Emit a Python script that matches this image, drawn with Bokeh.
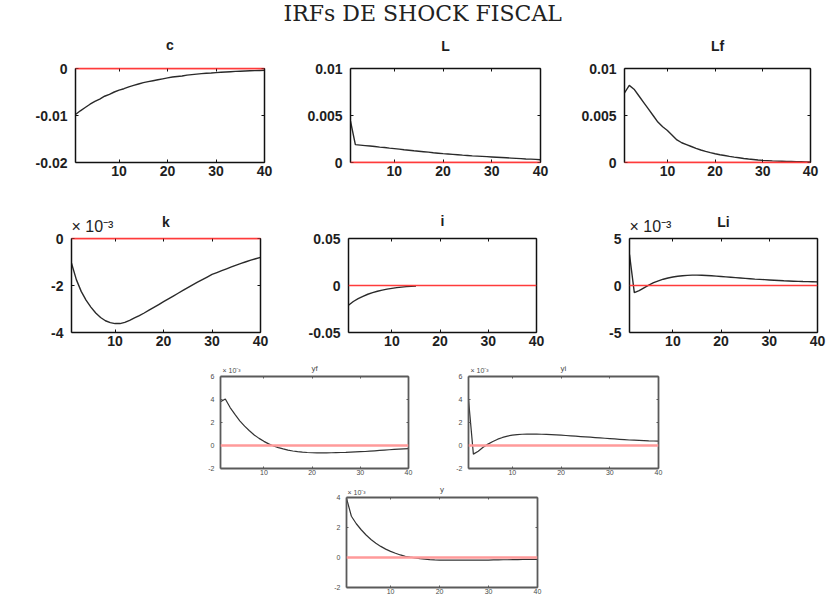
from bokeh.plotting import figure
from bokeh.layouts import column, row
from bokeh.models import Spacer, LinearAxis, Range1d, FixedTicker, Span, Title
from bokeh.embed import file_html
from bokeh.resources import INLINE

# ---------------------------------------------------------------- data
periods = list(range(1, 41))

# responses in levels
c_irf = [-0.0098, -0.0090, -0.0083, -0.0076, -0.0070, -0.0065, -0.0059, -0.0055,
         -0.0050, -0.0046, -0.0043, -0.0039, -0.0036, -0.0033, -0.0030, -0.0028,
         -0.0026, -0.0024, -0.0022, -0.0020, -0.0018, -0.0017, -0.0016, -0.0014,
         -0.0013, -0.0012, -0.0011, -0.0010, -0.00095, -0.00087, -0.00080, -0.00074,
         -0.00068, -0.00062, -0.00057, -0.00053, -0.00049, -0.00045, -0.00041, -0.00038]
L_irf = [0.0044, 0.0019, 0.00185, 0.0018, 0.00175, 0.0017, 0.00164, 0.00159,
         0.00153, 0.00148, 0.00142, 0.00136, 0.00131, 0.00125, 0.0012, 0.00115,
         0.0011, 0.00104, 0.00099, 0.00094, 0.0009, 0.00086, 0.00082, 0.00078,
         0.00075, 0.00071, 0.00068, 0.00065, 0.00062, 0.00059, 0.00056, 0.00053,
         0.0005, 0.00047, 0.00044, 0.00041, 0.00038, 0.00036, 0.00033, 0.0003]
Lf_irf = [0.0074, 0.0082, 0.0078, 0.0071, 0.0064, 0.0057, 0.0050, 0.0043,
          0.0038, 0.0034, 0.0029, 0.0024, 0.0021, 0.0019, 0.0017, 0.0015,
          0.00133, 0.00118, 0.00105, 0.00093, 0.00083, 0.00074, 0.00065, 0.00057,
          0.0005, 0.00043, 0.00037, 0.00032, 0.00027, 0.00023, 0.0002, 0.00017,
          0.00015, 0.00013, 0.00011, 0.0001, 0.00009, 0.00008, 0.00007, 0.00006]
i_irf = [-0.0210, -0.0170, -0.0140, -0.0115, -0.0093, -0.0076, -0.0061, -0.0049,
         -0.0039, -0.0030, -0.0023, -0.0017, -0.0012, -0.0008, -0.0005]

# responses in units of 10^-3
k_irf_e3 = [-1.05, -1.75, -2.25, -2.62, -2.92, -3.17, -3.36, -3.50, -3.58, -3.62,
            -3.62, -3.57, -3.48, -3.38, -3.28, -3.17, -3.05, -2.93, -2.81, -2.69,
            -2.57, -2.45, -2.33, -2.21, -2.09, -1.97, -1.86, -1.75, -1.64, -1.53,
            -1.45, -1.37, -1.29, -1.21, -1.13, -1.06, -0.99, -0.92, -0.86, -0.80]
Li_irf_e3 = [3.3, -0.75, -0.55, -0.25, 0.05, 0.3, 0.5, 0.67, 0.8, 0.9,
             0.98, 1.04, 1.08, 1.1, 1.1, 1.09, 1.07, 1.04, 1.0, 0.96,
             0.92, 0.88, 0.84, 0.8, 0.76, 0.72, 0.68, 0.65, 0.62, 0.59,
             0.56, 0.53, 0.5, 0.48, 0.46, 0.44, 0.42, 0.41, 0.4, 0.39]
yf_irf_e3 = [3.8, 4.05, 3.3, 2.7, 2.15, 1.68, 1.28, 0.92, 0.62, 0.36,
             0.14, -0.04, -0.18, -0.3, -0.4, -0.48, -0.54, -0.58, -0.61, -0.63,
             -0.64, -0.64, -0.64, -0.63, -0.62, -0.61, -0.6, -0.58, -0.56, -0.54,
             -0.52, -0.49, -0.46, -0.43, -0.4, -0.37, -0.34, -0.31, -0.29, -0.27]
yi_irf_e3 = [4.0, -0.75, -0.5, -0.15, 0.12, 0.35, 0.55, 0.7, 0.82, 0.9,
             0.95, 0.98, 0.99, 1.0, 0.99, 0.98, 0.96, 0.94, 0.92, 0.9,
             0.87, 0.84, 0.81, 0.78, 0.75, 0.72, 0.69, 0.66, 0.63, 0.6,
             0.57, 0.54, 0.51, 0.48, 0.46, 0.44, 0.42, 0.4, 0.39, 0.38]
y_irf_e3 = [3.95, 2.75, 2.25, 1.85, 1.5, 1.2, 0.95, 0.74, 0.56, 0.41,
            0.28, 0.17, 0.08, 0.02, -0.03, -0.08, -0.11, -0.14, -0.16, -0.17,
            -0.18, -0.18, -0.18, -0.18, -0.18, -0.18, -0.18, -0.17, -0.17, -0.17,
            -0.16, -0.16, -0.15, -0.15, -0.14, -0.14, -0.13, -0.13, -0.12, -0.12]

# axis ticks and their labels
x_ticks = [10, 20, 30, 40]
x_tick_labels = ["10", "20", "30", "40"]
c_ticks, c_tick_labels = [-0.02, -0.01, 0.0], ["-0.02", "-0.01", "0"]
L_ticks, L_tick_labels = [0.0, 0.005, 0.01], ["0", "0.005", "0.01"]
k_ticks, k_tick_labels = [-4, -2, 0], ["-4", "-2", "0"]
i_ticks, i_tick_labels = [-0.05, 0.0, 0.05], ["-0.05", "0", "0.05"]
Li_ticks, Li_tick_labels = [-5, 0, 5], ["-5", "0", "5"]
yfyi_ticks, yfyi_tick_labels = [-2, 0, 2, 4, 6], ["-2", "0", "2", "4", "6"]
y_ticks, y_tick_labels = [-2, 0, 2, 4], ["-2", "0", "2", "4"]

HEADING = "IRFs DE SHOCK FISCAL"
EXPONENT = "\u00d7 10\u207b\u00b3"

# ---------------------------------------------------------------- styles
BIG = dict(font="Liberation Sans", size="14px", style="bold", color="#1e1e1e",
           title_size="14px", title_style="bold", exp_size="16px",
           box="#111111", box_w=1.5, curve="#2a2a2a", curve_w=1.4,
           red="#ff3b3b", red_w=1.6, tick_in=3, y_standoff=8, x_standoff=3)
SMALL = dict(font="Liberation Sans", size="7px", style="normal", color="#4a4a4a",
             title_size="8px", title_style="normal", exp_size="7px",
             box="#5a5a5a", box_w=1.8, curve="#333333", curve_w=1.2,
             red="#ff9a9a", red_w=2.5, tick_in=2, y_standoff=6, x_standoff=1)


def make_panel(name, values, y_lo, y_hi, ticks, tick_labels, frame_w, frame_h,
               pad_l, pad_r, pad_t, pad_b, st, name_standoff, exp_standoff=None, exp_dx=0):
    p = figure(frame_width=frame_w, frame_height=frame_h,
               min_border_left=pad_l, min_border_right=pad_r,
               min_border_top=pad_t, min_border_bottom=pad_b,
               x_range=Range1d(1, 40), y_range=Range1d(y_lo, y_hi),
               x_axis_type=None, y_axis_type=None, title=None,
               output_backend="svg", toolbar_location=None)
    p.background_fill_color = "white"
    p.border_fill_color = "white"
    # the box is built from four axis lines so the zero line can sit on top of it
    p.outline_line_color = None

    def boxed(axis, on_zero=False):
        axis.axis_line_color = st["red"] if on_zero else st["box"]
        axis.axis_line_width = st["box_w"]
        axis.major_tick_line_color = st["box"]
        axis.minor_tick_line_color = st["box"]
        axis.major_tick_in = st["tick_in"]
        axis.major_tick_out = 0
        axis.minor_tick_in = st["tick_in"]
        axis.minor_tick_out = 0
        return axis

    def labelled(axis, ticker_vals, labels, standoff, on_zero=False):
        axis.ticker = FixedTicker(ticks=ticker_vals)
        axis.major_label_text_font = st["font"]
        axis.major_label_text_font_style = st["style"]
        axis.major_label_text_color = st["color"]
        axis.major_label_text_font_size = st["size"]
        axis.major_label_overrides = dict(zip(ticker_vals, labels))
        axis.major_label_standoff = standoff
        boxed(axis, on_zero)
        axis.minor_tick_line_color = None
        return axis

    def bare(axis, ticker_vals, on_zero=False):
        axis.ticker = FixedTicker(ticks=[], minor_ticks=ticker_vals)
        return boxed(axis, on_zero)

    # where the zero level coincides with a frame edge, that edge is drawn in red
    p.add_layout(labelled(LinearAxis(), x_ticks, x_tick_labels, st["x_standoff"],
                          on_zero=(y_lo == 0)), "below")
    p.add_layout(labelled(LinearAxis(), ticks, tick_labels, st["y_standoff"]), "left")
    p.add_layout(bare(LinearAxis(), x_ticks, on_zero=(y_hi == 0)), "above")
    p.add_layout(bare(LinearAxis(), ticks), "right")

    # scale marker sits nearest the frame, the series name goes on the same line
    if exp_standoff is not None:
        p.add_layout(Title(text=EXPONENT, align="left", offset=exp_dx, standoff=exp_standoff,
                           text_font=st["font"], text_font_size=st["exp_size"],
                           text_font_style="normal", text_color=st["color"]), "above")
    p.add_layout(Title(text=name, align="center", standoff=name_standoff,
                       text_font=st["font"], text_font_size=st["title_size"],
                       text_font_style=st["title_style"], text_color=st["color"]), "above")

    p.line(periods[:len(values)], values, line_color=st["curve"], line_width=st["curve_w"])
    p.add_layout(Span(location=0, dimension="width", line_color=st["red"],
                      line_width=st["red_w"], level="overlay"))
    return p


# row 1 (the page heading rides on the middle panel)
c_p = make_panel("c", c_irf, -0.02, 0.0, c_ticks, c_tick_labels, 189, 94, 75, 11, 68, 38, BIG, 31)
L_p = make_panel("L", L_irf, 0.0, 0.01, L_ticks, L_tick_labels, 190, 94, 75, 29, 68, 38, BIG, 30)
Lf_p = make_panel("Lf", Lf_irf, 0.0, 0.01, L_ticks, L_tick_labels, 186, 94, 55, 21, 68, 38, BIG, 30)
L_p.title = Title(text=HEADING, align="left", offset=-67, standoff=-10,
                  text_font="DejaVu Serif", text_font_size="22px",
                  text_font_style="normal", text_color="#222222")

# row 2
k_p = make_panel("k", k_irf_e3, -4, 0, k_ticks, k_tick_labels, 189, 94, 71, 11, 38, 26, BIG, -37, 8, 0)
i_p = make_panel("i", i_irf, -0.05, 0.05, i_ticks, i_tick_labels, 188, 94, 77, 10, 38, 26, BIG, 20)
Li_p = make_panel("Li", Li_irf_e3, -5, 5, Li_ticks, Li_tick_labels, 188, 94, 83, 14, 38, 26, BIG, -37, 8, 0)

# row 3
yf_p = make_panel("yf", yf_irf_e3, -2, 6, yfyi_ticks, yfyi_tick_labels, 188, 92, 30, 20, 18, 15, SMALL, -23, 6, 2)
yi_p = make_panel("yi", yi_irf_e3, -2, 6, yfyi_ticks, yfyi_tick_labels, 190, 92, 40, 173, 18, 15, SMALL, -23, 6, 2)

# row 4
y_p = make_panel("y", y_irf_e3, -2, 4, y_ticks, y_tick_labels, 191, 90, 30, 294, 14, 11, SMALL, -18, 4, 1)

layout = column(
    row(c_p, L_p, Lf_p, spacing=0),
    row(k_p, i_p, Li_p, spacing=0),
    row(Spacer(width=190, height=10, margin=0), yf_p, yi_p, spacing=0),
    row(Spacer(width=316, height=10, margin=0), y_p, spacing=0),
    spacing=0,
)

open("out.html", "w").write(file_html(layout, INLINE, title=HEADING))
